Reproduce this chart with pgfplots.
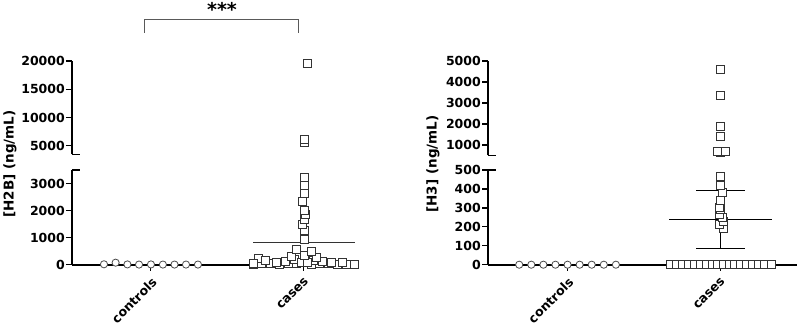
\documentclass[border=0pt]{standalone}
\usepackage{pgfplots}
\pgfplotsset{compat=1.18}
\usepackage{pgfplotstable}
\usepackage{fontspec}
\setmainfont{DejaVu Sans}
\setsansfont{DejaVu Sans}

% H2B controls
\pgfplotstableread{
x y
-0.307 15
-0.231 75
-0.154 10
-0.078 5
0 10
0.078 5
0.154 5
0.229 5
0.307 5
}\hbctrl
% H2B cases
\pgfplotstableread{
x y
0.67 20
0.72 30
0.78 40
0.84 15
0.90 50
0.95 30
1.05 20
1.10 40
1.16 30
1.22 25
1.28 20
1.33 15
0.70 250
0.75 160
0.82 100
0.88 130
0.94 180
1.06 150
1.12 120
1.18 100
1.25 80
0.98 90
1.02 80
0.67 60
0.92 300
1.08 260
1.00 360
1.05 500
0.95 580
1.00 950
1.00 1250
0.99 1500
1.00 1690
1.01 1850
1.00 2020
0.99 2330
1.00 2620
1.00 2920
1.00 3230
1.00 5600
1.00 6200
1.02 19600
}\hbcase
% H3 controls
\pgfplotstableread{
x y
-0.316 0
-0.237 0
-0.158 0
-0.079 0
0 0
0.079 0
0.158 0
0.237 0
0.316 0
}\hctrl
% H3 cases
\pgfplotstableread{
x y
0.67 0
0.71 0
0.75 0
0.79 0
0.83 0
0.87 0
0.91 0
0.945 0
0.98 0
1.02 0
1.055 0
1.09 0
1.13 0
1.17 0
1.21 0
1.25 0
1.29 0
1.33 0
1.02 190
0.99 215
1.02 230
1.01 250
0.99 265
1.00 290
0.99 305
1.00 342
1.01 380
1.00 420
1.00 464
1.00 630
1.03 680
0.98 700
1.00 1430
1.00 1900
1.00 3380
1.00 4620
}\hcase

\pgfplotsset{
  seg/.style={scale only axis, anchor=south west, clip=false,
    axis y line*=left, y axis line style={line width=1.5pt},
    tick align=outside, major tick length=6pt,
    ytick style={line width=1.3pt, black},
    ticklabel style={font=\bfseries\fontsize{12.5}{14}\selectfont},
    /pgf/number format/assume math mode=true,
    /pgf/number format/1000 sep={},
    scaled y ticks=false,
    yticklabel style={inner sep=1pt},
    minor tick num=0},
  lowseg/.style={seg, axis x line*=bottom, x axis line style={line width=2pt},
    xtick={0,1}, xticklabels={controls,cases},
    xtick style={line width=1pt, black},
    xticklabel shift=3pt,
    xticklabel style={rotate=45, anchor=north east, inner sep=2pt}},
  upseg/.style={seg, axis x line=none, xtick=\empty},
  ctrlmark/.style={only marks, mark=*, mark size=3.6pt,
    mark options={fill=white, draw=black!70, line width=0.8pt}},
  casemark/.style={only marks, mark=square*, mark size=4pt,
    mark options={fill=white, draw=black!80, line width=0.8pt}},
}

\begin{document}
\begin{tikzpicture}
\useasboundingbox (0,0) rectangle (797pt,326pt);

% ---------- H2B lower ----------
\begin{axis}[lowseg, at={(72pt,61.3pt)}, width=286pt, height=94.7pt,
  xmin=-0.516, xmax=1.353, ymin=0, ymax=3500, ytick={0,1000,2000,3000}]
\addplot[ctrlmark] table[x=x,y=y] {\hbctrl};
\addplot[casemark, restrict y to domain=0:3500] table[x=x,y=y] {\hbcase};
\addplot[black!80, line width=1pt, no marks] coordinates {(0.667,815) (1.333,815)};
\draw[line width=1.5pt] (rel axis cs:0,1) -- ++(8pt,0pt);
\end{axis}
% ---------- H2B upper ----------
\begin{axis}[upseg, at={(72pt,171.7pt)}, width=286pt, height=93.3pt,
  xmin=-0.516, xmax=1.353, ymin=3500, ymax=20000, ytick={5000,10000,15000,20000}]
\addplot[casemark, restrict y to domain=3500:25000] table[x=x,y=y] {\hbcase};
\draw[line width=1.5pt] (rel axis cs:0,0) -- ++(8pt,0pt);
\end{axis}

% ---------- H3 lower ----------
\begin{axis}[lowseg, at={(488pt,61.3pt)}, width=309pt, height=94.7pt,
  xmin=-0.52, xmax=1.50, ymin=0, ymax=500, ytick={0,100,...,500}]
\addplot[ctrlmark] table[x=x,y=y] {\hctrl};
\addplot[casemark, restrict y to domain=0:500] table[x=x,y=y] {\hcase};
\addplot[black, line width=1.1pt, no marks] coordinates {(0.665,240) (1.335,240)};
\addplot[black, line width=1.1pt, no marks] coordinates {(0.84,394) (1.16,394)};
\addplot[black, line width=1.1pt, no marks] coordinates {(0.84,87) (1.16,87)};
\addplot[black, line width=1.1pt, no marks] coordinates {(1,87) (1,394)};
\draw[line width=1.5pt] (rel axis cs:0,1) -- ++(8pt,0pt);
\end{axis}
% ---------- H3 upper ----------
\begin{axis}[upseg, at={(488pt,170.5pt)}, width=309pt, height=94.5pt,
  xmin=-0.52, xmax=1.50, ymin=500, ymax=5000, ytick={1000,2000,...,5000}]
\addplot[casemark, restrict y to domain=500:6000] table[x=x,y=y] {\hcase};
\draw[line width=1.5pt] (rel axis cs:0,0) -- ++(8pt,0pt);
\end{axis}

% y labels
\node[rotate=90, font=\bfseries\fontsize{13.5}{15}\selectfont] at (10pt,162pt) {[H2B] (ng/mL)};
\node[rotate=90, font=\bfseries\fontsize{13.5}{15}\selectfont] at (433pt,162pt) {[H3] (ng/mL)};

% significance bracket
\draw[black!65, line width=0.9pt] (144pt,293pt) -- (144pt,307pt) -- (298pt,307pt) -- (298pt,293pt);
\node[font=\bfseries\fontsize{19}{20}\selectfont, anchor=center] at (222pt,317pt) {***};
\end{tikzpicture}
\end{document}
